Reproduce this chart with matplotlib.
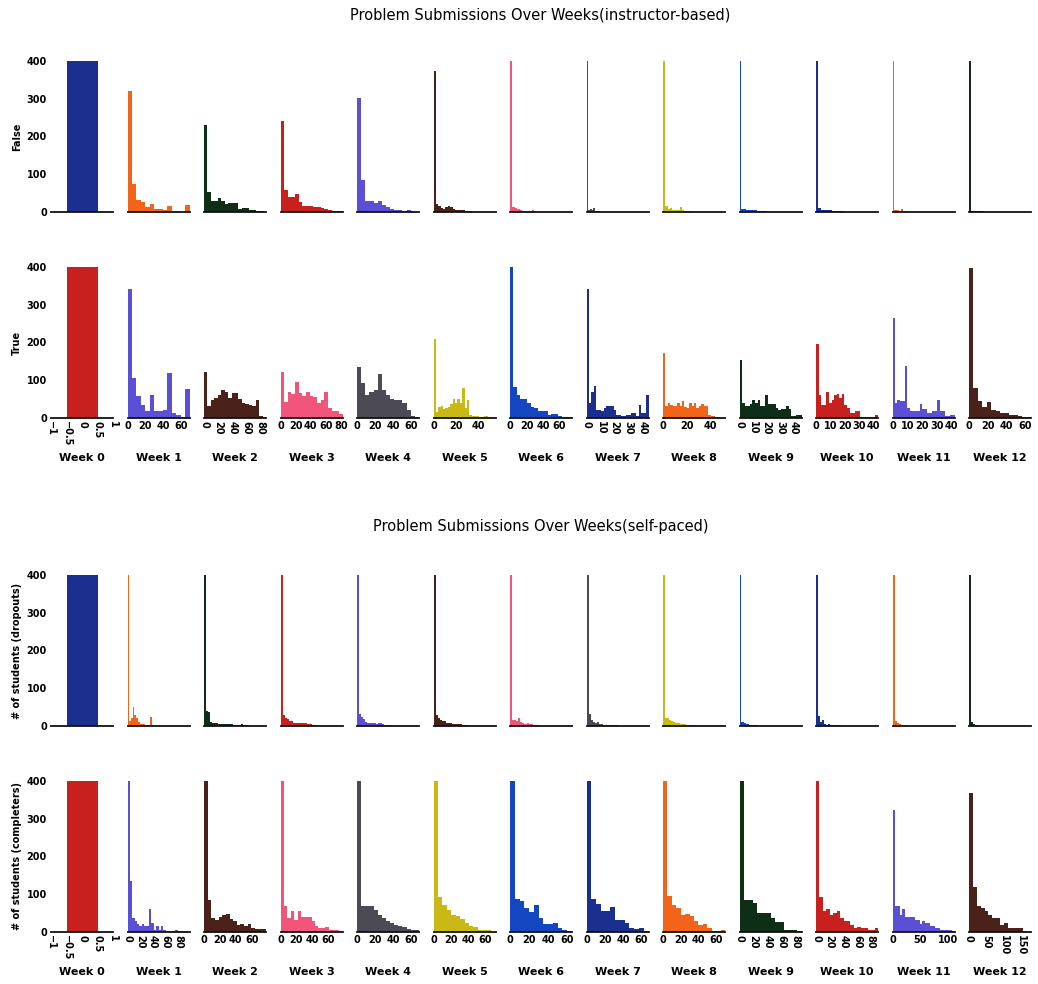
import numpy as np
import matplotlib
matplotlib.use("Agg")
import matplotlib.pyplot as plt

plt.rcParams["font.family"] = ["DejaVu Sans"]

weeks = [f"Week {i}" for i in range(13)]

palette = ["#1b2f8f", "#f26419", "#0e2e17", "#c8201e", "#5b4fd6",
           "#4a221a", "#f2557a", "#4b4a55", "#c9b816", "#1446c2"]

# upper end of the submissions range for each week
instr_span = [1, 69, 88, 82, 69, 55, 75, 44, 52, 46, 43, 42, 66]
self_span = [1, 98, 78, 78, 69, 72, 65, 68, 70, 89, 91, 112, 178]

# ---- instructor-based course: counts per equal-width bin ----
instr_false = [
    [400],
    [321, 75, 32, 26, 14, 22, 8, 8, 5, 17, 2, 2, 0, 19],
    [231, 52, 28, 28, 37, 28, 22, 25, 25, 25, 8, 10, 10, 5, 5, 2, 2, 1],
    [242, 57, 41, 39, 47, 26, 16, 16, 16, 14, 14, 11, 8, 4, 2, 2, 2],
    [301, 84, 28, 28, 25, 29, 18, 12, 8, 6, 4, 2, 4, 2, 1],
    [373, 21, 16, 10, 8, 12, 16, 14, 8, 6, 5, 4, 4, 3, 2, 2, 1, 1, 1, 1, 1, 0, 1, 0, 1, 0],
    [400, 13, 13, 10, 7, 7, 5, 3, 3, 2, 2, 2, 3, 4, 2, 1, 1, 1, 1, 1, 1, 1, 1, 1, 0, 1, 0, 1, 0, 1, 0, 0, 1, 0, 0, 1],
    [400, 6, 8, 4, 10, 3, 2, 2, 1, 1, 1, 1, 1, 1, 1, 1, 1, 1, 1, 1, 0, 1, 1, 0, 1, 0, 1, 0, 0, 1, 0, 0, 1, 0, 0, 1],
    [400, 15, 15, 8, 11, 6, 5, 5, 5, 5, 13, 4, 3, 3, 2, 2, 2, 2, 1, 1, 1, 1, 1, 1, 1, 1, 1, 1, 1, 1, 1, 0, 1, 1, 0, 1],
    [400, 9, 9, 7, 6, 5, 5, 5, 4, 4, 3, 3, 2, 2, 2, 2, 1, 1, 1, 1, 1, 1, 1, 1, 1, 1, 1, 1, 1, 1, 0, 1, 1, 0, 1, 1],
    [400, 11, 11, 6, 5, 5, 4, 4, 4, 3, 3, 2, 2, 2, 2, 2, 1, 1, 1, 1, 1, 1, 1, 1, 1, 1, 1, 1, 1, 1, 1, 1, 1, 1, 1, 1],
    [400, 4, 4, 4, 3, 8, 3, 2, 2, 1, 1, 1, 1, 1, 1, 1, 1, 1, 1, 1, 1, 1, 1, 1, 1, 1, 1, 1, 1, 1, 1, 1, 1, 1, 1, 1],
    [400, 3, 2, 2, 2, 2, 2, 2, 1, 1, 1, 1, 1, 1, 1, 1, 1, 1, 1, 1, 1, 1, 1, 1, 1, 1, 1, 1, 1, 1, 1, 1, 1, 1, 1, 1],
]

instr_true = [
    [400],
    [341, 107, 57, 35, 18, 62, 18, 18, 20, 119, 13, 7, 3, 77],
    [123, 33, 48, 52, 60, 73, 70, 53, 66, 66, 50, 40, 37, 35, 31, 47, 6, 3],
    [121, 42, 68, 64, 95, 66, 59, 70, 57, 55, 40, 48, 70, 26, 18, 18, 11],
    [134, 92, 62, 69, 75, 117, 75, 62, 50, 48, 48, 40, 20, 6, 2],
    [209, 15, 30, 33, 24, 26, 30, 36, 50, 40, 50, 40, 79, 26, 48, 9, 4, 4, 4, 3, 3, 4, 5, 3, 2, 1],
    [400, 83, 60, 50, 50, 40, 30, 26, 18, 18, 18, 9, 11, 11, 4, 3, 3, 2],
    [343, 40, 68, 85, 22, 22, 18, 26, 31, 31, 31, 22, 9, 9, 6, 6, 9, 9, 13, 13, 4, 35, 13, 13, 60],
    [171, 31, 41, 35, 33, 33, 41, 31, 44, 28, 26, 40, 31, 40, 26, 33, 37, 31, 31, 7, 4, 4, 2, 2, 1, 1],
    [154, 40, 33, 33, 38, 47, 41, 48, 33, 33, 62, 38, 38, 37, 26, 22, 24, 24, 31, 24, 4, 4, 9, 9],
    [196, 60, 35, 35, 68, 40, 48, 60, 64, 53, 64, 35, 26, 13, 13, 18, 18, 3, 3, 2, 2, 2, 2, 9],
    [264, 40, 48, 44, 44, 138, 26, 19, 19, 18, 18, 37, 24, 24, 13, 13, 18, 18, 48, 18, 18, 4, 4, 7, 7],
    [398, 79, 46, 28, 42, 22, 18, 13, 13, 7, 9, 4, 3, 3],
]

# ---- self-paced course ----
self_dropouts = [
    [400],
    [400, 13, 20, 50, 28, 20, 10, 5, 4, 4, 3, 3, 3, 24, 2, 2, 1, 1, 2, 1, 1, 1, 1, 1, 1, 1, 1, 0, 1, 0, 0, 1, 0, 0, 0, 0],
    [400, 40, 37, 11, 9, 8, 8, 6, 6, 5, 5, 4, 4, 4, 3, 3, 3, 3, 4, 3, 2, 2, 1, 1, 1, 1, 1, 1, 1, 1],
    [400, 28, 22, 19, 12, 12, 9, 9, 8, 8, 8, 8, 8, 6, 4, 3, 2, 2, 1, 1, 1, 1, 1, 1, 1, 1, 1, 1, 1, 1],
    [400, 31, 25, 19, 11, 9, 9, 9, 9, 6, 8, 9, 5, 3, 2, 2, 2, 1, 1, 1, 1, 1, 1, 1, 1, 1, 1, 1, 1, 1],
    [400, 28, 22, 17, 12, 12, 9, 9, 7, 6, 6, 5, 4, 4, 3, 2, 2, 1, 1, 1, 1, 1, 1, 1, 1, 1, 1, 1, 1, 1],
    [400, 17, 15, 13, 20, 10, 8, 6, 8, 5, 4, 3, 3, 2, 2, 1, 1, 1, 1, 1, 1, 1, 1, 1, 1, 1, 1, 1, 1, 1],
    [400, 31, 17, 10, 8, 11, 6, 4, 2, 2, 2, 2, 2, 3, 2, 1, 1, 1, 1, 1, 1, 1, 1, 1, 1, 1, 1, 1, 1, 1],
    [400, 20, 20, 15, 12, 10, 8, 8, 6, 4, 4, 3, 3, 2, 2, 2, 1, 1, 1, 1, 1, 1, 1, 1, 1, 1, 1, 1, 1, 1],
    [400, 11, 11, 8, 4, 4, 3, 3, 3, 2, 2, 2, 1, 1, 1, 1, 1, 1, 1, 1, 1, 1, 1, 1, 1, 1, 1, 1, 1, 1, 1, 1, 1, 1, 1, 1, 1, 1, 1, 1],
    [400, 26, 11, 17, 6, 3, 6, 3, 3, 2, 2, 2, 1, 1, 1, 1, 1, 1, 1, 1, 1, 1, 1, 1, 1, 1, 1, 1, 1, 1],
    [400, 12, 8, 6, 3, 2, 2, 1, 1, 1, 1, 1, 1, 1, 1, 1, 1, 1, 1, 1, 1, 1, 1, 1, 1, 1, 1, 1, 1, 1],
    [400, 11, 5, 2, 2, 1, 1, 1, 1, 1, 1, 1, 1, 1, 1, 1, 1, 1, 1, 1, 1, 1, 1, 1, 1, 1, 1, 1, 1, 1],
]

self_completers = [
    [400],
    [400, 134, 37, 28, 21, 17, 22, 17, 15, 62, 24, 6, 15, 6, 15, 6, 3, 3, 3, 3, 6, 2, 2, 2, 2, 1],
    [400, 85, 37, 33, 39, 46, 47, 34, 28, 19, 21, 15, 22, 11, 9, 9, 7],
    [400, 70, 37, 55, 33, 55, 41, 41, 41, 28, 15, 11, 11, 13, 6, 6, 4, 3],
    [400, 70, 70, 68, 59, 46, 37, 30, 24, 18, 15, 12, 9, 6, 4],
    [400, 94, 72, 57, 46, 43, 34, 24, 15, 13, 6, 4, 4, 1],
    [400, 87, 83, 63, 52, 72, 37, 22, 22, 24, 11, 6, 3],
    [400, 87, 75, 55, 55, 66, 33, 33, 24, 11, 8, 11, 2],
    [400, 96, 72, 63, 46, 47, 43, 28, 18, 22, 11, 2, 2, 6],
    [400, 85, 85, 76, 50, 50, 50, 37, 26, 26, 6, 4, 4, 3],
    [400, 94, 55, 61, 46, 50, 55, 37, 28, 28, 18, 11, 13, 11, 11, 6, 6, 11],
    [323, 70, 70, 46, 61, 41, 41, 41, 41, 33, 33, 21, 28, 24, 24, 15, 15, 11, 11, 6, 4, 4, 4, 4, 2],
    [367, 120, 70, 63, 55, 46, 37, 37, 19, 24, 11, 11, 11, 11, 2, 1],
]

y_ticks = [0, 100, 200, 300, 400]
instr_xticks = [[-1, -0.5, 0, 0.5, 1], [0, 20, 40, 60], [0, 20, 40, 60, 80],
                [0, 20, 40, 60, 80], [0, 20, 40, 60], [0, 20, 40], [0, 20, 40, 60],
                [0, 10, 20, 30, 40], [0, 20, 40], [0, 10, 20, 30, 40],
                [0, 10, 20, 30, 40], [0, 10, 20, 30, 40], [0, 20, 40, 60]]
self_xticks = [[-1, -0.5, 0, 0.5, 1], [0, 20, 40, 60, 80], [0, 20, 40, 60],
               [0, 20, 40, 60], [0, 20, 40, 60], [0, 20, 40, 60], [0, 20, 40, 60],
               [0, 20, 40, 60], [0, 20, 40, 60], [0, 20, 40, 60, 80],
               [0, 20, 40, 60, 80], [0, 50, 100], [0, 50, 100, 150]]
instr_rotated = {0, 2, 7, 9}
self_rotated = {0, 1, 9, 10, 12}

titles = ["Problem Submissions Over Weeks(instructor-based)",
          "Problem Submissions Over Weeks(self-paced)"]
row_labels = ["False", "True",
              "# of students (dropouts)", "# of students (completers)"]

# ---- layout (pixels) ----
W, H = 1038, 984
fig = plt.figure(figsize=(W / 100, H / 100), dpi=100)
fig.patch.set_facecolor("white")

col_left = [51 + 76.5 * i for i in range(13)]
ax_w = 62
ax_h = 151
row_top = [61, 267, 575, 781]

TICK_FS = 7
LABEL_FS = 8


def fmt(v):
    s = f"{v:g}"
    return s.replace("-", "\u2212")


groups = [
    (instr_false, instr_true, instr_span, instr_xticks, instr_rotated),
    (self_dropouts, self_completers, self_span, self_xticks, self_rotated),
]

for g, (top_rows, bottom_rows, spans, xticks, rotated) in enumerate(groups):
    for r, data in enumerate([top_rows, bottom_rows]):
        row = 2 * g + r
        for wk in range(13):
            left = col_left[wk] / W
            bottom = 1 - (row_top[row] + ax_h) / H
            ax = fig.add_axes([left, bottom, ax_w / W, ax_h / H])
            counts = data[wk]
            color = palette[(r * 13 + wk) % 10]
            if wk == 0:
                edges = np.array([-0.5, 0.5])
                ax.set_xlim(-1, 1)
            else:
                edges = np.linspace(0, spans[wk], len(counts) + 1)
                ax.set_xlim(0, spans[wk])
            ax.stairs(counts, edges, fill=True, color=color, linewidth=0)
            ax.set_ylim(0, 400)

            for side in ("left", "right", "top"):
                ax.spines[side].set_visible(False)
            ax.spines["bottom"].set_color("#111111")
            ax.spines["bottom"].set_linewidth(1.3)

            ax.tick_params(axis="both", length=0, labelsize=TICK_FS)
            if wk == 0:
                ax.set_yticks(y_ticks)
                ax.set_yticklabels([str(t) for t in y_ticks],
                                   fontweight="bold", fontsize=TICK_FS)
                ax.tick_params(axis="y", pad=3)
            else:
                ax.set_yticks([])

            if r == 1:
                ax.set_xticks(xticks[wk])
                labels = ax.set_xticklabels([fmt(t) for t in xticks[wk]],
                                            fontweight="bold", fontsize=TICK_FS)
                ax.tick_params(axis="x", pad=2)
                if wk in rotated:
                    for lab in labels:
                        lab.set_rotation(-90)
                ax.set_xlabel(weeks[wk], fontsize=LABEL_FS, fontweight="bold")
                ax.xaxis.set_label_coords(0.5, -0.235)
            else:
                ax.set_xticks([])

            ax.set_facecolor("none")

# row labels
for row, text in enumerate(row_labels):
    yc = 1 - (row_top[row] + ax_h / 2) / H
    fig.text(17 / W, yc, text, rotation=90, ha="center", va="center",
             fontsize=TICK_FS, fontweight="bold")

# group titles
fig.text(540 / W, 1 - 15 / H, titles[0], ha="center", va="center", fontsize=10.5)
fig.text(541 / W, 1 - 527 / H, titles[1], ha="center", va="center", fontsize=10.5)

fig.savefig("out.png", dpi=100, facecolor="white")
